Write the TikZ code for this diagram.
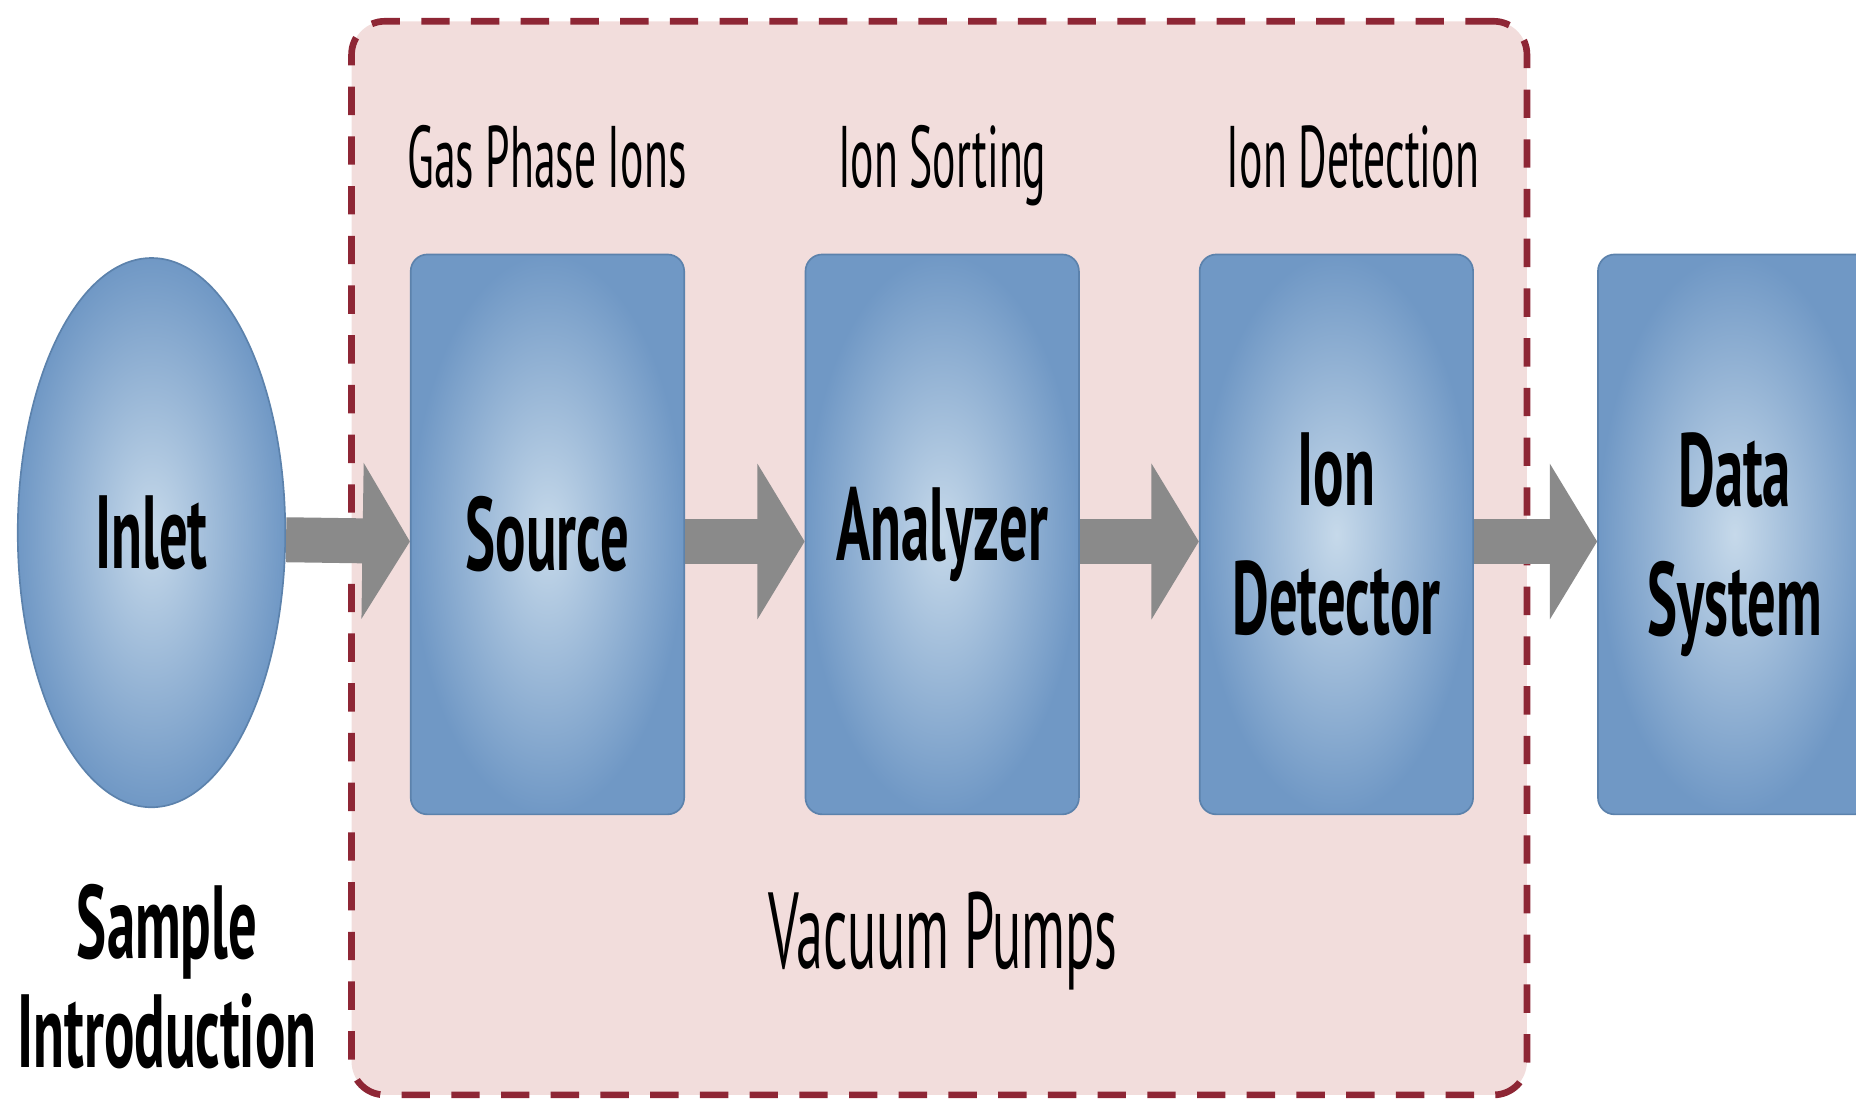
\documentclass[tikz,border=0pt]{standalone}
\usepackage{fontspec}
\newfontfamily\diafont{PT Sans}[FakeStretch=0.5]
\newfontfamily\diabold{PT Sans}[FakeStretch=0.545]
\usetikzlibrary{shapes.geometric,arrows.meta}

\definecolor{framefill}{RGB}{242,221,220}
\definecolor{framedash}{RGB}{142,38,53}
\definecolor{boxlight}{RGB}{198,217,234}
\definecolor{boxdark}{RGB}{112,152,197}
\definecolor{boxedge}{RGB}{92,130,172}
\definecolor{flowgray}{RGB}{138,138,138}

\begin{document}
\begin{tikzpicture}[
    outer/.style={
        draw=framedash,
        fill=framefill,
        rounded corners=8pt,
        line width=1.6pt,
        dash pattern=on 0.24cm off 0.18cm,
        inner sep=0pt
    },
    stage/.style={
        draw=boxedge,
        inner color=boxlight,
        outer color=boxdark,
        rounded corners=4pt,
        minimum width=2.31cm,
        minimum height=4.73cm,
        inner sep=0pt,
        align=center,
        font=\diabold\bfseries\fontsize{25}{31}\selectfont
    },
    inlet/.style={
        ellipse,
        draw=boxedge,
        inner color=boxlight,
        outer color=boxdark,
        minimum width=2.26cm,
        minimum height=4.64cm,
        inner sep=0pt,
        font=\diabold\bfseries\fontsize{25}{31}\selectfont
    },
    lbl/.style={
        anchor=base,
        font=\diafont\fontsize{21}{25}\selectfont
    },
    big/.style={
        align=center,
        font=\diabold\bfseries\fontsize{25}{26}\selectfont
    },
    flow/.style={
        -{Triangle[length=0.4cm, width=1.3cm]},
        line width=0.38cm,
        draw=flowgray
    }
]
\useasboundingbox (0,0) rectangle (15.68,9.30);

%--- Vacuum frame ---
\node[outer, minimum width=9.93cm, minimum height=9.07cm]
    (vac) at (7.935, 4.585) {};

%--- Inlet and stages ---
\node[inlet] (inlet) at (1.28, 4.80) {Inlet};
\node[stage] (source)   at (4.625, 4.785) {Source};
\node[stage] (analyzer) at (7.96, 4.785)  {Analyzer};
\node[stage] (detector) at (11.29, 4.785) {Ion\\Detector};
\node[stage, text depth=0pt] (data) at (14.655, 4.785) {Data\\System};

%--- Stage labels ---
\node[lbl] (gas)       at (4.62, 7.72)  {Gas Phase Ions};
\node[lbl] (sorting)   at (7.96, 7.72)  {Ion Sorting};
\node[lbl] (detection) at (11.43, 7.72) {Ion Detection};
\node[lbl, font=\diafont\fontsize{26}{30}\selectfont]
    (pumps) at (7.965, 1.12) {Vacuum Pumps};
\node[big] (sample) at (1.41, 1.05) {Sample\\Introduction};

%--- Flow arrows ---
\draw[flow] ([yshift=-0.06cm]inlet.east)     -- ([yshift=-0.06cm]source.west);
\draw[flow] ([yshift=-0.06cm]source.east)    -- ([yshift=-0.06cm]analyzer.west);
\draw[flow] ([yshift=-0.06cm]analyzer.east)  -- ([yshift=-0.06cm]detector.west);
\draw[flow] ([yshift=-0.06cm]detector.east)  -- ([yshift=-0.06cm]data.west);

\end{tikzpicture}
\end{document}
